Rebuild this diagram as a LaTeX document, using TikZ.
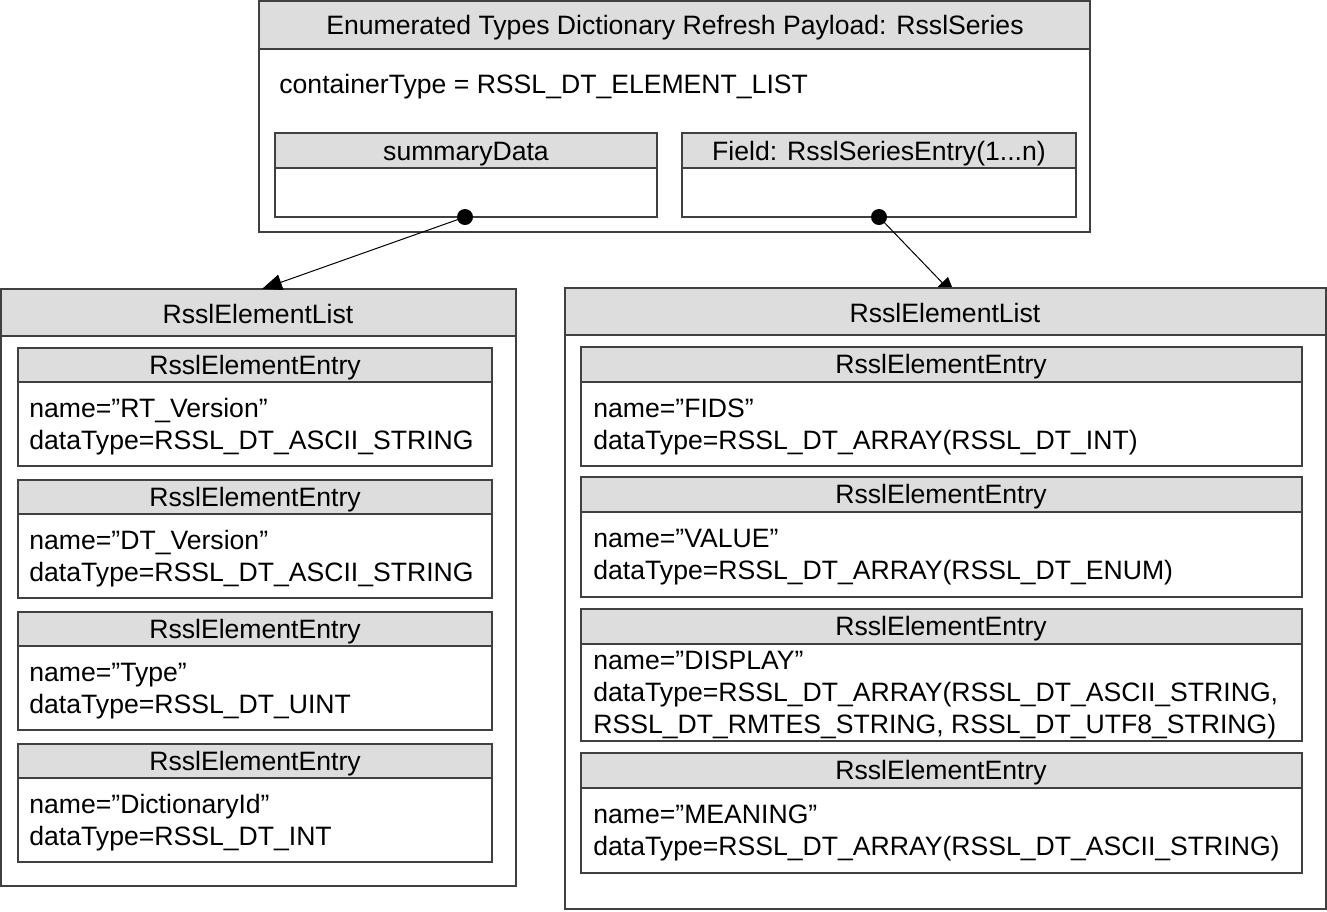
\documentclass[tikz,border=0pt]{standalone}
\usepackage{fontspec}
\setmainfont{Liberation Sans}
\usetikzlibrary{fit,arrows.meta}
\definecolor{headgrey}{RGB}{221,221,221}
\definecolor{edge}{RGB}{64,64,64}
\tikzstyle{frame}=[draw=edge, fill=white, line width=0.7pt, inner sep=0pt]
\tikzstyle{head}=[frame, fill=headgrey]
\tikzstyle{label}=[inner sep=0pt, yshift=-1.5pt, font=\fontsize{13.3}{16}\selectfont]
\tikzstyle{entrytext}=[label, anchor=west, align=left]
\tikzstyle{dot}=[circle, fill=black, minimum size=8pt, inner sep=0pt]
\tikzstyle{link}=[-{Triangle[length=10pt,width=8pt]}, line width=0.5pt]

\begin{document}
\begin{tikzpicture}[x=0.5pt,y=-0.5pt]
  \useasboundingbox (0,0) rectangle (1327,911);

  %% Series payload
  \node[frame, fit={(259,1) (1090,232)}] (series) {};
  \node[head, fit={(259,1) (1090,49)}] (serieshead) {};
  \draw (675,25) node[label] {Enumerated Types Dictionary Refresh Payload: RsslSeries};
  \draw (279,84) node[label, anchor=west] (ctype) {containerType = RSSL\_DT\_ELEMENT\_LIST};

  \node[frame, fit={(275,133) (657,217)}] (summary) {};
  \node[head, fit={(275,133) (657,168)}] (summaryhead) {};
  \draw (466,151) node[label] {summaryData};

  \node[frame, fit={(682,133) (1076,217)}] (field) {};
  \node[head, fit={(682,133) (1076,168)}] (fieldhead) {};
  \draw (879,151) node[label] {Field: RsslSeriesEntry(1...n)};

  \coordinate (sdotc) at (465,217);
  \coordinate (fdotc) at (879,217);
  \coordinate (ltip) at (262,289);
  \coordinate (rtip) at (956,297);

  \draw[link] (fdotc) -- (rtip);

  %% Left element list
  \node[frame, fit={(1,289) (516,886)}] (leftlist) {};
  \node[head, fit={(1,289) (516,336)}] (leftlisthead) {};
  \draw (258,311) node[label] {RsslElementList};

  \node[frame, fit={(18,348) (492,466)}] (L1) {};
  \node[head, fit={(18,348) (492,382)}] (L1head) {};
  \draw (255,365) node[label] {RsslElementEntry};
  \draw (29,424) node[entrytext] {name=''RT\_Version''\\dataType=RSSL\_DT\_ASCII\_STRING};

  \node[frame, fit={(18,480) (492,598)}] (L2) {};
  \node[head, fit={(18,480) (492,514)}] (L2head) {};
  \draw (255,497) node[label] {RsslElementEntry};
  \draw (29,556) node[entrytext] {name=''DT\_Version''\\dataType=RSSL\_DT\_ASCII\_STRING};

  \node[frame, fit={(18,612) (492,730)}] (L3) {};
  \node[head, fit={(18,612) (492,646)}] (L3head) {};
  \draw (255,629) node[label] {RsslElementEntry};
  \draw (29,688) node[entrytext] {name=''Type''\\dataType=RSSL\_DT\_UINT};

  \node[frame, fit={(18,744) (492,862)}] (L4) {};
  \node[head, fit={(18,744) (492,778)}] (L4head) {};
  \draw (255,761) node[label] {RsslElementEntry};
  \draw (29,820) node[entrytext] {name=''DictionaryId''\\dataType=RSSL\_DT\_INT};

  %% Right element list
  \node[frame, fit={(565,288) (1326,909)}] (rightlist) {};
  \node[head, fit={(565,288) (1326,335)}] (rightlisthead) {};
  \draw (945,310) node[label] {RsslElementList};

  \node[frame, fit={(581,347) (1302,466)}] (R1) {};
  \node[head, fit={(581,347) (1302,382)}] (R1head) {};
  \draw (941,364) node[label] {RsslElementEntry};
  \draw (593,424) node[entrytext] {name=''FIDS''\\dataType=RSSL\_DT\_ARRAY(RSSL\_DT\_INT)};

  \node[frame, fit={(581,477) (1302,597)}] (R2) {};
  \node[head, fit={(581,477) (1302,512)}] (R2head) {};
  \draw (941,494) node[label] {RsslElementEntry};
  \draw (593,554) node[entrytext] {name=''VALUE''\\dataType=RSSL\_DT\_ARRAY(RSSL\_DT\_ENUM)};

  \node[frame, fit={(581,609) (1302,741)}] (R3) {};
  \node[head, fit={(581,609) (1302,644)}] (R3head) {};
  \draw (941,626) node[label] {RsslElementEntry};
  \draw (593,692) node[entrytext] {name=''DISPLAY''\\dataType=RSSL\_DT\_ARRAY(RSSL\_DT\_ASCII\_STRING,\\RSSL\_DT\_RMTES\_STRING, RSSL\_DT\_UTF8\_STRING)};

  \node[frame, fit={(581,753) (1302,873)}] (R4) {};
  \node[head, fit={(581,753) (1302,788)}] (R4head) {};
  \draw (941,770) node[label] {RsslElementEntry};
  \draw (593,830) node[entrytext] {name=''MEANING''\\dataType=RSSL\_DT\_ARRAY(RSSL\_DT\_ASCII\_STRING)};

  %% Links
  \draw[link] (sdotc) -- (ltip);
  \node[dot] (sdot) at (sdotc) {};
  \node[dot] (fdot) at (fdotc) {};
\end{tikzpicture}
\end{document}
